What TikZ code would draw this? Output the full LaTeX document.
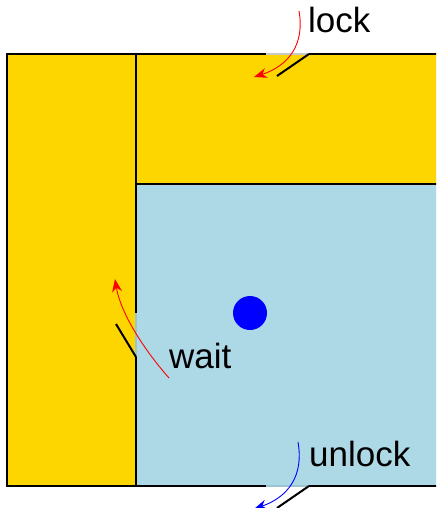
\documentclass[tikz,border=0pt]{standalone}
\usepackage{fontspec}
\setmainfont{Liberation Sans}
\usetikzlibrary{arrows.meta}
\definecolor{roomyellow}{HTML}{FDD600}
\definecolor{roomblue}{HTML}{ADD8E6}
\definecolor{gapgray}{HTML}{C8C8C8}
\definecolor{gapblue}{HTML}{9CC3D0}
\tikzset{
  wall/.style={line width=2pt, black},
  doorgap/.style={line width=2pt},
  leaf/.style={line width=2pt, black},
  label/.style={anchor=base west, inner sep=0pt, font=\fontsize{35}{40}\selectfont},
  move/.style={line width=0.9pt, -{Stealth[length=13pt, width=10pt]}},
}
\begin{document}
\begin{tikzpicture}[x=1pt, y=-1pt]
  \useasboundingbox (0,0) rectangle (436,508);
  \clip (0,0) rectangle (436,508);
  % room fills
  \fill[roomyellow] (7,54) rectangle (136,486);
  \fill[roomyellow] (136,54) rectangle (437,184);
  \fill[roomblue] (136,184) rectangle (437,486);
  % door openings
  \draw[doorgap, gapgray] (266,54) -- (309,54);
  \draw[doorgap, gapblue] (266,486) -- (309,486);
  \draw[doorgap, gapblue] (136,313) -- (136,357);
  % walls
  \draw[wall] (7,54) -- (266,54);
  \draw[wall] (309,54) -- (437,54);
  \draw[wall] (7,53) -- (7,487);
  \draw[wall] (7,486) -- (266,486);
  \draw[wall] (309,486) -- (437,486);
  \draw[wall] (136,54) -- (136,313);
  \draw[wall] (136,357) -- (136,486);
  \draw[wall] (136,184) -- (437,184);
  % door leaves
  \draw[leaf] (309,54) -- (277,76);
  \draw[leaf] (136,357) -- (116,324);
  \draw[leaf] (309,486) -- (277,508);
  % occupant
  \fill[blue] (250,313) circle (17);
  % labels
  \node[label] (lock) at (308,33) {lock};
  \node[label] (wait) at (169,368) {wait};
  \node[label] (unlock) at (309,466) {unlock};
  % arrow end points
  \coordinate (lockS) at (299,11);
  \coordinate (lockE) at (254,77);
  \coordinate (waitS) at (169,378);
  \coordinate (waitE) at (115,279);
  \coordinate (unlockS) at (298,442);
  \coordinate (unlockE) at (254,509);
  % motions
  \draw[move, red] (lockS) .. controls (305,45) and (288,66) .. (lockE);
  \draw[move, red] (waitS) .. controls (140,345) and (120,310) .. (waitE);
  \draw[move, blue] (unlockS) .. controls (304,476) and (288,497) .. (unlockE);
\end{tikzpicture}
\end{document}
